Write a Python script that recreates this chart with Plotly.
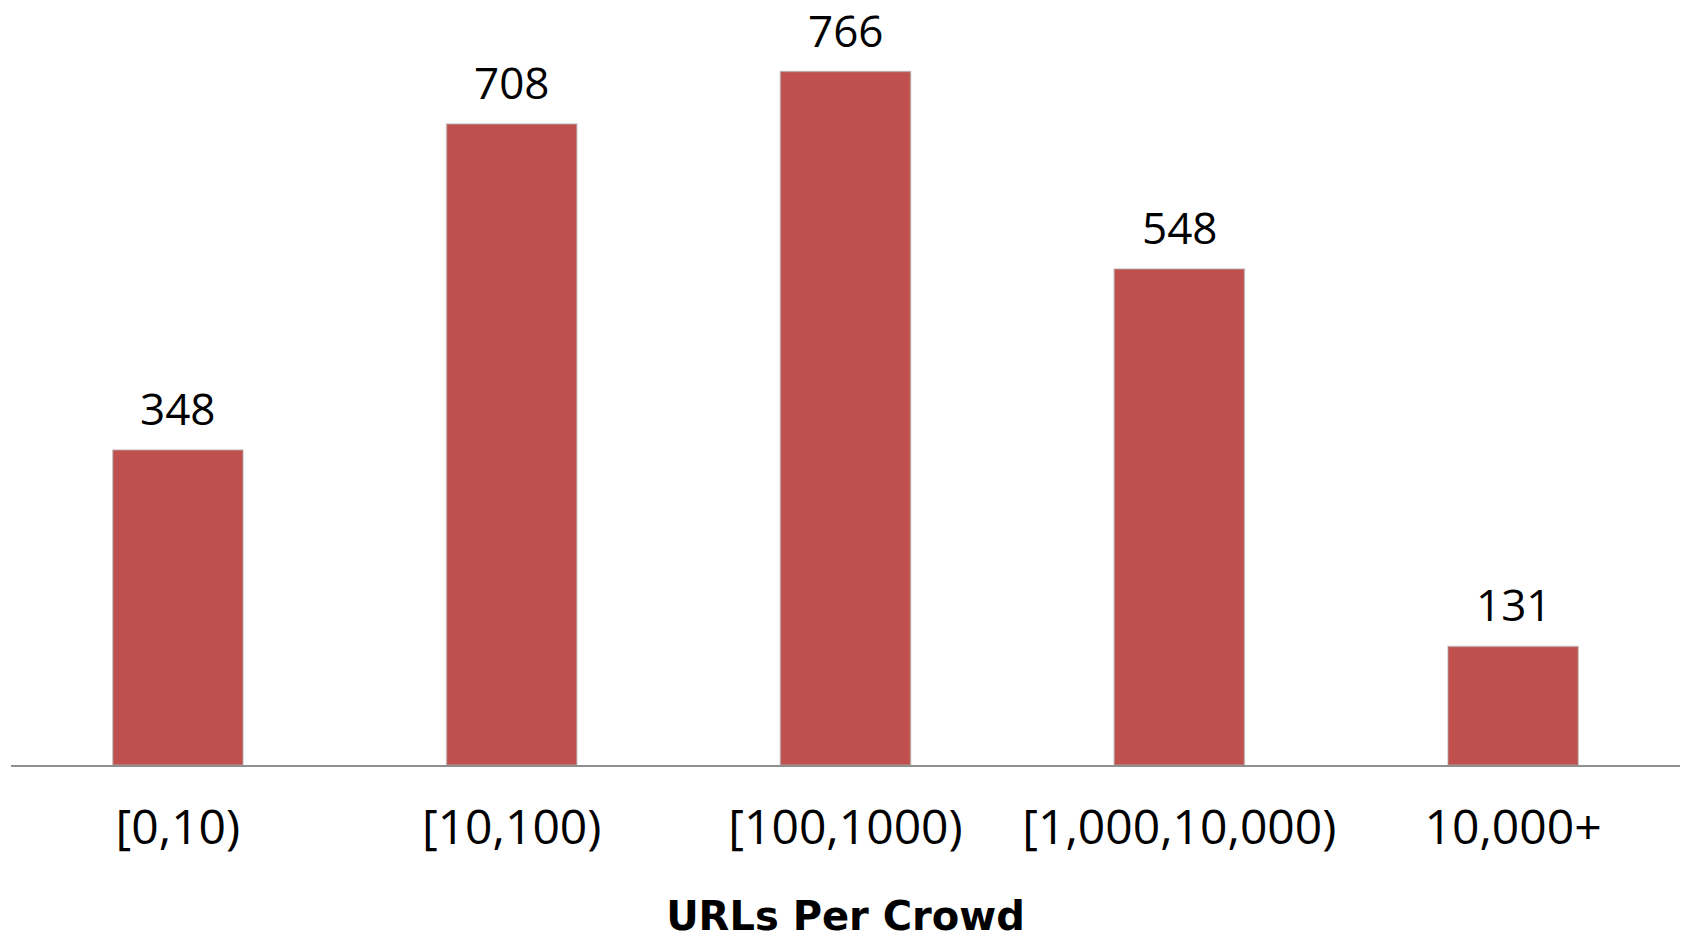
import plotly.graph_objects as go

# Number of crowds by how many URLs each crowd contains
categories = ["[0,10)", "[10,100)", "[100,1000)", "[1,000,10,000)", "10,000+"]
crowd_counts = [348, 708, 766, 548, 131]

BAR_COLOR = "#C0504D"

fig = go.Figure()
fig.add_trace(
    go.Bar(
        x=categories,
        y=crowd_counts,
        width=0.39,
        marker=dict(color=BAR_COLOR, line=dict(color="rgba(170,170,170,0.55)", width=1.5)),
        hoverinfo="x+y",
    )
)

# Value labels above each bar
for cat, val in zip(categories, crowd_counts):
    fig.add_annotation(
        x=cat,
        y=val,
        text=str(val),
        showarrow=False,
        yanchor="bottom",
        yshift=10,
        font=dict(family="Open Sans", size=44, color="#000000"),
    )

fig.update_layout(
    width=1683,
    height=939,
    margin=dict(l=11, r=3, t=0, b=174),
    paper_bgcolor="white",
    plot_bgcolor="white",
    showlegend=False,
    bargap=0.61,
    xaxis=dict(
        type="category",
        range=[-0.5, 4.5],
        showline=True,
        linecolor="#8f8f8f",
        linewidth=2,
        ticks="",
        showgrid=False,
        zeroline=False,
        ticklabelstandoff=19,
        tickfont=dict(family="Open Sans", size=48, color="#000000"),
        title=dict(
            text="URLs Per Crowd",
            font=dict(family="DejaVu Sans", size=40, color="#000000", weight="bold"),
            standoff=45,
        ),
    ),
    yaxis=dict(
        range=[0, 845],
        visible=False,
        showgrid=False,
        zeroline=False,
    ),
)

fig.write_html("out.html")
